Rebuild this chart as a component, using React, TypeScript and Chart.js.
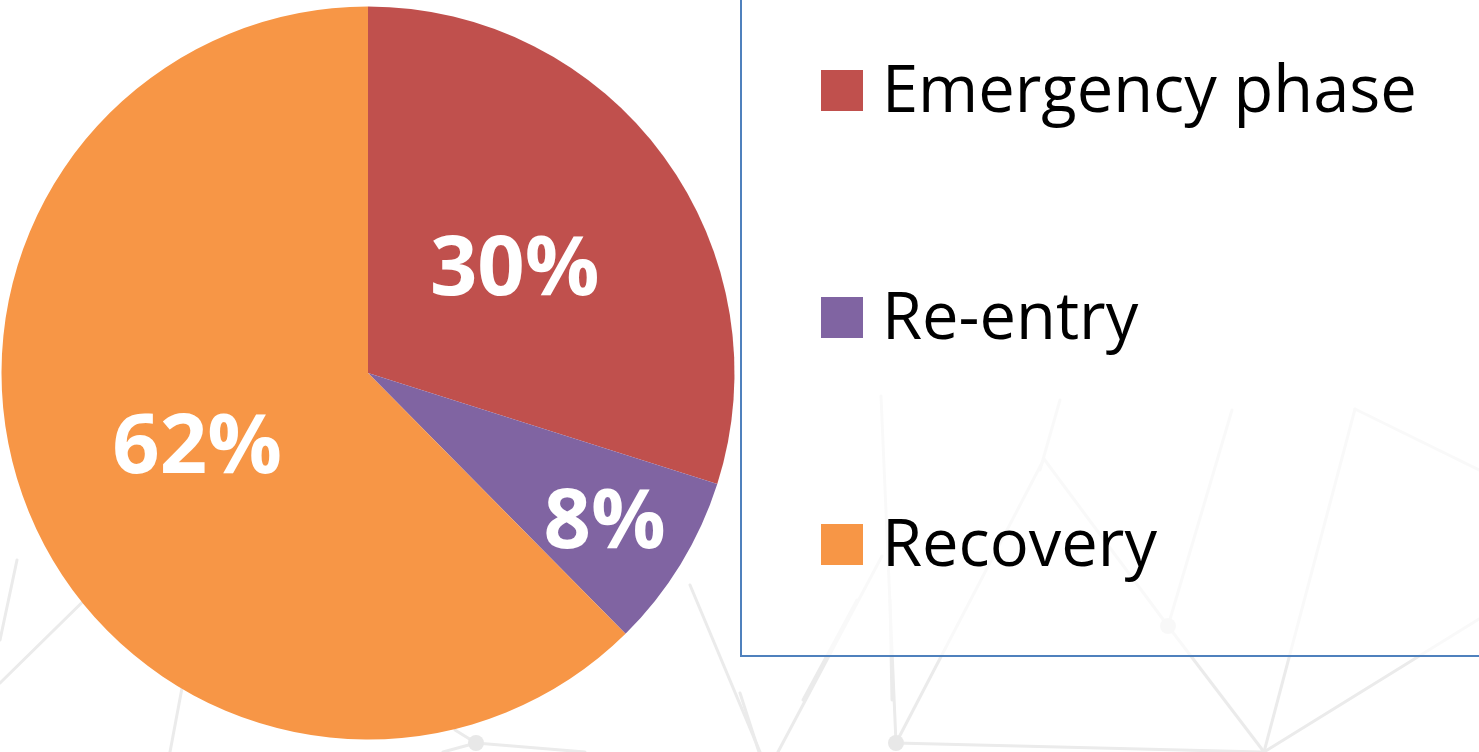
import React, { useEffect, useRef } from "react";
import { Chart, registerables } from "chart.js";

Chart.register(...registerables);

const categories = ["Emergency phase", "Re-entry", "Recovery"];
const shares = [29.9, 7.7, 62.4];
const sliceColors = ["#C0504D", "#8064A2", "#F79646"];

// decorative background network (faint lines), purely ornamental
const bgSegments: [number, number, number, number][] = [
  [17, 560, 0, 640],
  [0, 683, 110, 575],
  [182, 688, 170, 752],
  [476, 743, 455, 730],
  [476, 743, 585, 752],
  [476, 743, 443, 752],
  [690, 585, 760, 752],
  [857, 600, 803, 700],
  [890, 600, 892, 700],
  [740, 693, 759, 752],
  [778, 752, 882, 556],
  [881, 396, 896, 743],
  [896, 743, 1044, 459],
  [896, 743, 1262, 752],
  [1044, 459, 1168, 626],
  [1168, 626, 1264, 752],
  [1264, 752, 1479, 619],
  [1168, 626, 1232, 410],
  [1264, 752, 1355, 409],
  [1355, 409, 1479, 470],
  [1040, 470, 1060, 400],
];
const bgNodes: [number, number][] = [
  [476, 743],
  [896, 743],
  [1168, 626],
];

const labelRadius = [0.496, 0.757, 0.504];

const backgroundPlugin = {
  id: "bgNetwork",
  beforeDraw(chart: any) {
    const ctx = chart.ctx;
    ctx.save();
    ctx.fillStyle = "#ffffff";
    ctx.fillRect(0, 0, chart.width, chart.height);
    ctx.strokeStyle = "#ebebeb";
    ctx.lineWidth = 3;
    ctx.lineCap = "round";
    bgSegments.forEach(([x1, y1, x2, y2]) => {
      ctx.beginPath();
      ctx.moveTo(x1, y1);
      ctx.lineTo(x2, y2);
      ctx.stroke();
    });
    ctx.fillStyle = "#e8e8e8";
    bgNodes.forEach(([x, y]) => {
      ctx.beginPath();
      ctx.arc(x, y, 8, 0, Math.PI * 2);
      ctx.fill();
    });
    ctx.restore();
  },
};

const sliceLabelPlugin = {
  id: "sliceLabels",
  afterDatasetsDraw(chart: any) {
    const ctx = chart.ctx;
    const meta = chart.getDatasetMeta(0);
    const data = chart.data.datasets[0].data as number[];
    const total = data.reduce((a, b) => a + b, 0);
    const size = 83;
    ctx.save();
    ctx.font = `bold ${size}px "Open Sans"`;
    ctx.fillStyle = "#ffffff";
    ctx.textAlign = "center";
    ctx.textBaseline = "alphabetic";
    meta.data.forEach((arc: any, i: number) => {
      const mid = (arc.startAngle + arc.endAngle) / 2;
      const r = arc.outerRadius * labelRadius[i];
      const x = arc.x + Math.cos(mid) * r;
      const y = arc.y + Math.sin(mid) * r;
      const txt = Math.round((data[i] / total) * 100) + "%";
      ctx.fillText(txt, x, y + size * 0.714 / 2);
    });
    ctx.restore();
  },
};

const legendPlugin = {
  id: "boxLegend",
  afterDraw(chart: any) {
    const ctx = chart.ctx;
    ctx.save();
    ctx.fillStyle = "rgba(255,255,255,0.7)";
    ctx.fillRect(741, -10, 800, 666);
    ctx.strokeStyle = "#4F81BD";
    ctx.lineWidth = 2;
    ctx.strokeRect(741, -10, 800, 666);
    const labels = chart.data.labels as string[];
    const colors = chart.data.datasets[0].backgroundColor as string[];
    const top = 90.5;
    const step = 227;
    ctx.font = `65px "Open Sans"`;
    ctx.textAlign = "left";
    ctx.textBaseline = "alphabetic";
    labels.forEach((lab, i) => {
      const cy = top + step * i;
      ctx.fillStyle = colors[i];
      ctx.fillRect(821, cy - 20.5, 42, 41);
      ctx.fillStyle = "#000000";
      ctx.fillText(lab, 882, cy + 21.5);
    });
    ctx.restore();
  },
};

export default function App() {
  const ref = useRef<HTMLCanvasElement | null>(null);
  useEffect(() => {
    document.body.style.margin = "0";
    const canvas = ref.current;
    if (!canvas) return;
    const chart = new Chart(canvas, {
      type: "pie",
      data: {
        labels: categories,
        datasets: [
          {
            data: shares,
            backgroundColor: sliceColors,
            borderWidth: 0,
            hoverOffset: 0,
          },
        ],
      },
      options: {
        animation: false,
        responsive: false,
        devicePixelRatio: 1,
        rotation: 0,
        layout: {
          padding: { left: 1.5, top: 6.5, right: 744.5, bottom: 12.5 },
        },
        plugins: {
          legend: { display: false },
          tooltip: { enabled: false },
        },
        events: [],
      },
      plugins: [backgroundPlugin, sliceLabelPlugin, legendPlugin],
    });
    return () => chart.destroy();
  }, []);
  return (
    <div style={{ width: 1479, height: 752 }}>
      <canvas ref={ref} width={1479} height={752} style={{ display: "block" }} />
    </div>
  );
}
